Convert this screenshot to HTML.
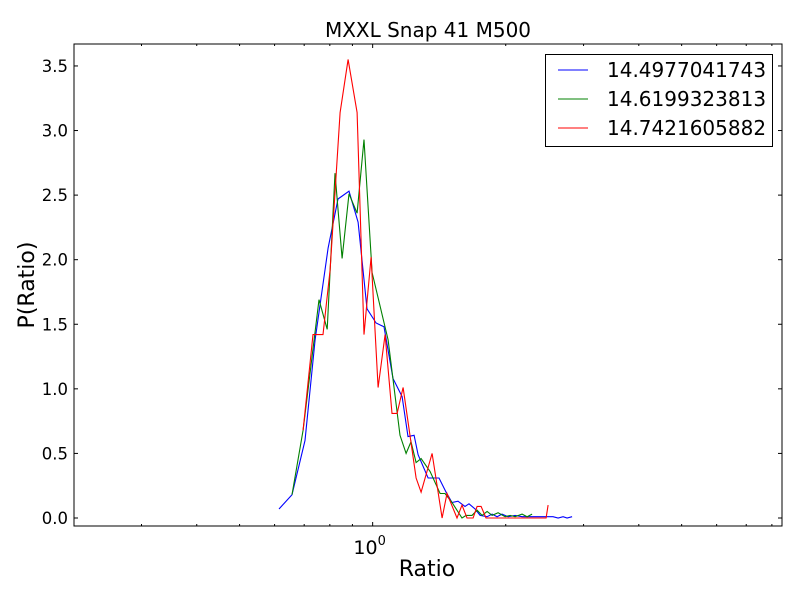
<!DOCTYPE html>
<html><head><meta charset="utf-8"><style>
body{margin:0;background:#fff;}
svg{display:block;font-family:"DejaVu Sans","Liberation Sans",sans-serif;}
</style></head><body>
<svg id="chart" width="800" height="600" viewBox="0 0 800 600">
<rect x="0" y="0" width="800" height="600" fill="#fff"/>
<text x="428" y="37" font-size="20" text-anchor="middle">MXXL Snap 41 M500</text>
<text x="427" y="576" font-size="22" text-anchor="middle">Ratio</text>
<text x="0" y="0" font-size="22" text-anchor="middle" transform="translate(34,285) rotate(-90)">P(Ratio)</text>
<g id="ticks"></g>
<g id="series"></g>
<rect x="74" y="44" width="708" height="482" fill="none" stroke="#000" stroke-width="1"/>
<g>
<rect x="545.5" y="54.5" width="227" height="92" fill="#fff" stroke="#000"/>
<line x1="558" y1="70" x2="588" y2="70" stroke="#0000ff"/>
<text x="607" y="77" font-size="20">14.4977041743</text>
<line x1="558" y1="99" x2="588" y2="99" stroke="#008000"/>
<text x="607" y="106" font-size="20">14.6199323813</text>
<line x1="558" y1="128" x2="588" y2="128" stroke="#ff0000"/>
<text x="607" y="135" font-size="20">14.7421605882</text>
</g>
</svg>
<script>
const blueRatio=[0.614,0.657,0.703,0.741,0.793,0.835,0.884,0.927,0.971,1.018,1.061,1.112,1.166,1.202,1.241,1.267,1.335,1.413,1.466,1.512,1.560,1.618,1.652,1.705,1.750,1.815,1.863,1.912,1.962,2.025,2.100,2.178,2.270,2.367,2.494,2.559,2.627,2.696,2.753,2.826];
const blueP=[0.07,0.18,0.60,1.38,2.09,2.47,2.53,2.29,1.62,1.51,1.48,1.08,0.94,0.63,0.64,0.49,0.31,0.31,0.20,0.12,0.13,0.09,0.11,0.07,0.02,0.01,0.03,0.01,0.03,0.01,0.02,0.01,0.01,0.01,0.01,0.01,0.00,0.01,0.00,0.01];
const greenRatio=[0.657,0.696,0.756,0.789,0.822,0.853,0.884,0.922,0.956,0.997,1.084,1.153,1.190,1.221,1.254,1.287,1.349,1.421,1.458,1.512,1.593,1.627,1.678,1.723,1.768,1.815,1.863,1.922,1.993,2.046,2.100,2.178,2.235,2.294];
const greenP=[0.18,0.68,1.69,1.46,2.67,2.01,2.51,2.36,2.93,1.90,1.38,0.64,0.50,0.59,0.43,0.46,0.36,0.19,0.19,0.12,0.00,0.02,0.02,0.06,0.02,0.05,0.02,0.04,0.01,0.02,0.01,0.03,0.01,0.03];
const redRatio=[0.696,0.733,0.772,0.801,0.844,0.880,0.922,0.956,0.992,1.029,1.067,1.106,1.136,1.172,1.254,1.287,1.363,1.436,1.473,1.552,1.593,1.635,1.687,1.723,1.759,1.805,1.863,1.922,1.993,2.100,2.178,2.270,2.367,2.468,2.494];
const redP=[0.68,1.42,1.42,1.92,3.14,3.55,3.14,1.42,2.02,1.01,1.42,0.81,0.81,1.01,0.31,0.20,0.50,0.00,0.19,0.00,0.10,0.00,0.00,0.09,0.09,0.00,0.00,0.00,0.00,0.00,0.00,0.00,0.00,0.00,0.10];
const yTicks=[0,0.5,1,1.5,2,2.5,3,3.5];
const yTickLabels=["0.0","0.5","1.0","1.5","2.0","2.5","3.0","3.5"];
const xMinorTicks=[0.3,0.4,0.5,0.6,0.7,0.8,0.9,2,3,4,5,6,7,8];

const NS="http://www.w3.org/2000/svg";
const X0=74,X1=782,Y0=44,Y1=526;
const xLogMin=-0.6756,xLogMax=0.926, yMin=-0.062,yMax=3.67;
function xs(v){return X0+(Math.log10(v)-xLogMin)/(xLogMax-xLogMin)*(X1-X0);}
function ys(v){return Y1-(v-yMin)/(yMax-yMin)*(Y1-Y0);}
function mk(tag,attrs,parent){const e=document.createElementNS(NS,tag);for(const k in attrs)e.setAttribute(k,attrs[k]);parent.appendChild(e);return e;}
const tg=document.getElementById('ticks');
yTicks.forEach((v,i)=>{
  const y=ys(v);
  const l1=mk('line',{x1:X0,y1:y,x2:X0+4,y2:y,stroke:'#000'},tg);
  
  
  const l2=mk('line',{x1:X1,y1:y,x2:X1-4,y2:y,stroke:'#000'},tg);
  
  
  const t=mk('text',{x:X0-6,y:y+6,'font-size':16.5,'text-anchor':'end'},tg);
  t.textContent=yTickLabels[i];
  
  
});
xMinorTicks.forEach(v=>{
  const x=xs(v);
  const a=mk('line',{x1:x,y1:Y1,x2:x,y2:Y1-2,stroke:'#000'},tg);
  
  
  const b=mk('line',{x1:x,y1:Y0,x2:x,y2:Y0+2,stroke:'#000'},tg);
  
  
});
{
  const x=xs(1);
  const a=mk('line',{x1:x,y1:Y1,x2:x,y2:Y1-4,stroke:'#000'},tg);
  
  
  const b=mk('line',{x1:x,y1:Y0,x2:x,y2:Y0+4,stroke:'#000'},tg);
  
  
  const t=mk('text',{x:x-3,y:554,'font-size':19,'text-anchor':'middle'},tg);
  t.innerHTML='10<tspan dy="-9" font-size="13">0</tspan>';
  
  
}
const sg=document.getElementById('series');
[[blueRatio,blueP,'#0000ff','series-blue'],[greenRatio,greenP,'#008000','series-green'],[redRatio,redP,'#ff0000','series-red']].forEach(s=>{
  const pts=s[0].map((r,i)=>xs(r).toFixed(1)+','+ys(s[1][i]).toFixed(1)).join(' ');
  const p=mk('polyline',{points:pts,fill:'none',stroke:s[2],'stroke-width':1.1},sg);
  
  
});
</script>
</body></html>
